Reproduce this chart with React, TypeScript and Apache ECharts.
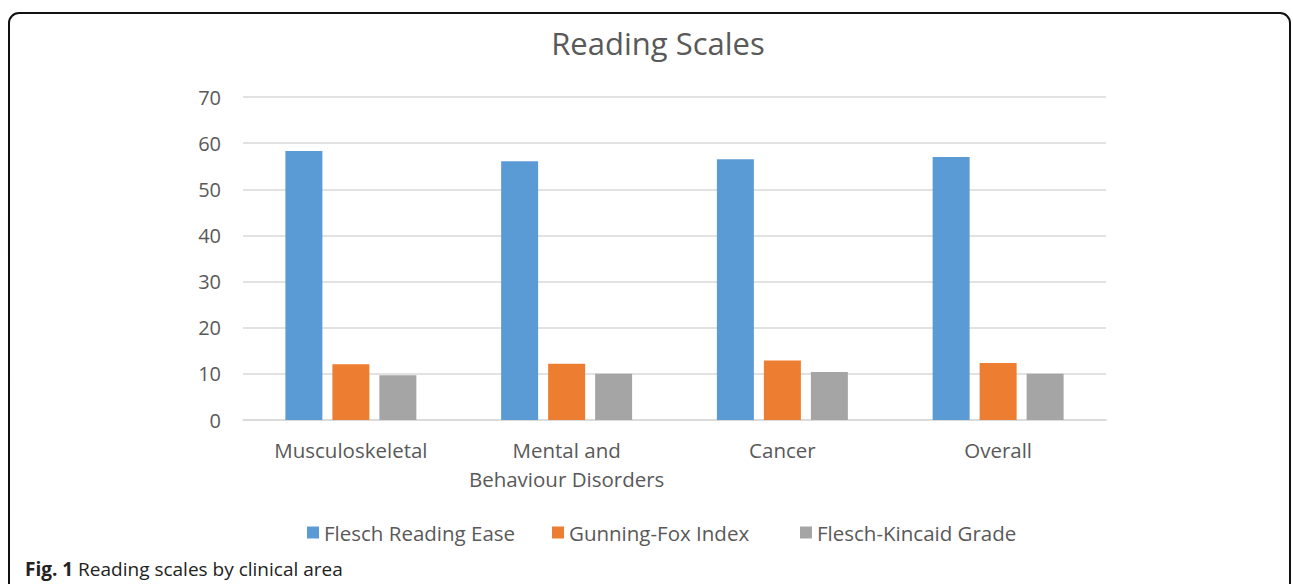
import React, { useEffect, useRef } from "react";
import * as echarts from "echarts";

const categories = ["Musculoskeletal", "Mental and\nBehaviour Disorders", "Cancer", "Overall"];
const seriesNames = ["Flesch Reading Ease", "Gunning-Fox Index", "Flesch-Kincaid Grade"];
const fleschEase = [58.3, 56.1, 56.5, 57.0];
const gunningFox = [12.1, 12.2, 12.9, 12.35];
const fleschKincaid = [9.7, 10.0, 10.4, 10.0];
const colors = ["#5b9bd5", "#ed7d31", "#a5a5a5"];

const FONT = "'Open Sans', 'Noto Sans', sans-serif";
const legendLefts = [302, 547, 795];

export default function App() {
  const ref = useRef<HTMLDivElement>(null);
  useEffect(() => {
    if (!ref.current) return;
    const chart = echarts.init(ref.current, null, { renderer: "svg" });
    const data = [fleschEase, gunningFox, fleschKincaid];
    chart.setOption({
      animation: false,
      backgroundColor: "#ffffff",
      title: {
        text: "Reading Scales",
        left: 653,
        textAlign: "center",
        top: 22,
        textStyle: { fontFamily: FONT, fontSize: 31, fontWeight: "normal", color: "#595959" },
      },
      grid: { left: 243, right: 187, top: 97, bottom: 164 },
      legend: seriesNames.map((name, i) => ({
        bottom: 36,
        left: legendLefts[i],
        itemWidth: 12,
        itemHeight: 12,
        icon: "rect",
        textStyle: { fontFamily: FONT, fontSize: 20.5, color: "#595959" },
        data: [name],
      })),
      xAxis: {
        type: "category",
        data: categories,
        axisLine: { lineStyle: { color: "#d9d9d9", width: 1.5 } },
        axisTick: { show: false },
        axisLabel: {
          interval: 0,
          fontFamily: FONT,
          fontSize: 20.5,
          color: "#595959",
          margin: 15,
          lineHeight: 29,
        },
      },
      yAxis: {
        type: "value",
        min: 0,
        max: 70,
        interval: 10,
        axisLine: { show: false },
        axisTick: { show: false },
        splitLine: { lineStyle: { color: "#d9d9d9", width: 1.5 } },
        axisLabel: { fontFamily: FONT, fontSize: 20, color: "#595959", margin: 22 },
      },
      series: seriesNames.map((name, i) => ({
        name,
        type: "bar",
        data: data[i],
        barWidth: 37,
        barGap: "27%",
        itemStyle: { color: colors[i] },
      })),
      graphic: [
        {
          type: "rect",
          shape: { x: 9, y: 13, width: 1281, height: 620, r: 10 },
          style: { fill: "none", stroke: "#111111", lineWidth: 2 },
          silent: true,
        },
        {
          type: "text",
          left: 25,
          top: 559,
          style: {
            text: "{b|Fig. 1} Reading scales by clinical area",
            rich: {
              b: { fontFamily: FONT, fontSize: 19, fontWeight: "bold", fill: "#222222" },
            },
            fontFamily: FONT,
            fontSize: 19,
            fill: "#222222",
          },
        },
      ],
    });
    return () => chart.dispose();
  }, []);
  return (
    <div
      ref={ref}
      style={{ position: "absolute", left: 0, top: 0, width: 1293, height: 584 }}
    />
  );
}
